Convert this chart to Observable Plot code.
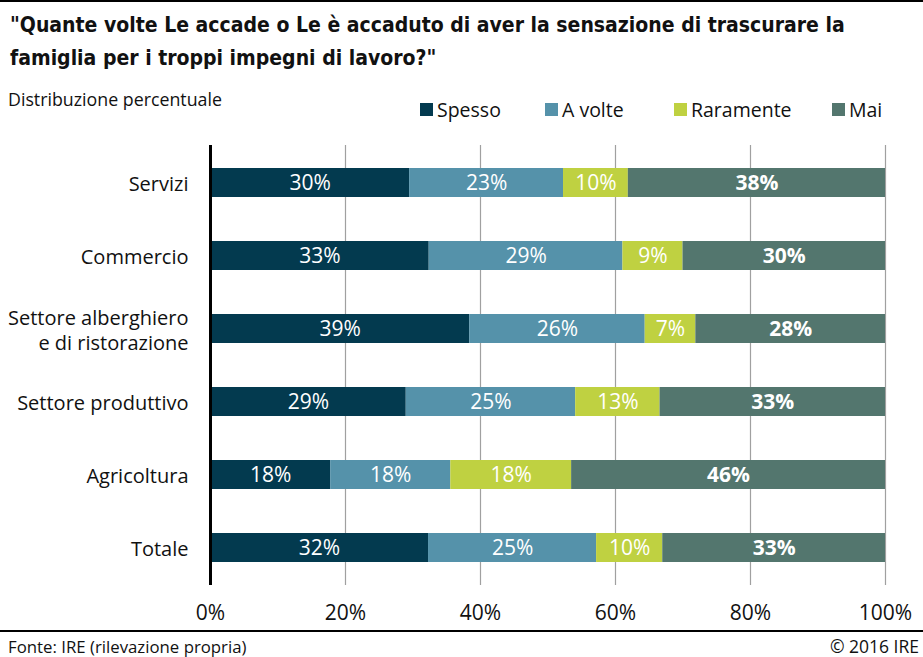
<!DOCTYPE html>
<html><head><meta charset="utf-8">
<script src="https://cdn.jsdelivr.net/npm/d3@7"></script>
<script src="https://cdn.jsdelivr.net/npm/@observablehq/plot@0.6"></script>
<style>
body{margin:0;background:#fff;}
#wrap{position:relative;width:923px;height:657px;overflow:hidden;font-family:"Open Sans",sans-serif;color:#111;}
#topline{position:absolute;left:0;top:0;width:923px;height:2px;background:#000;}
#title{position:absolute;left:10px;top:9px;font-family:"DejaVu Sans Condensed","DejaVu Sans";font-weight:bold;font-size:21px;line-height:33px;white-space:nowrap;}
#subtitle{position:absolute;left:8px;top:87px;font-size:17.8px;white-space:nowrap;}
.li{position:absolute;top:97px;height:24px;display:flex;align-items:center;font-size:19.5px;white-space:nowrap;}
.sw{width:13px;height:13px;margin-right:4px;}
#chart{position:absolute;left:0;top:130px;}
#rule{position:absolute;left:0;top:630px;width:923px;height:2px;background:#000;}
#src{position:absolute;left:8px;top:637px;font-size:16.8px;line-height:19px;white-space:nowrap;}
#copy{position:absolute;right:4px;top:637px;font-size:17.5px;line-height:19px;white-space:nowrap;}
</style></head>
<body>
<div id="wrap">
  <div id="topline"></div>
  <div id="title">"Quante volte Le accade o Le è accaduto di aver la sensazione di trascurare la<br>famiglia per i troppi impegni di lavoro?"</div>
  <div id="subtitle">Distribuzione percentuale</div>
  <div id="chart"></div>
  <div id="rule"></div>
  <div id="src">Fonte: IRE (rilevazione propria)</div>
  <div id="copy">© 2016 IRE</div>
</div>
<script>
const categories = ["Servizi", "Commercio", "Settore alberghiero\ne di ristorazione", "Settore produttivo", "Agricoltura", "Totale"];
const responses = ["Spesso", "A volte", "Raramente", "Mai"];
const colors = ["#033a4f", "#5592aa", "#bfd141", "#53766e"];
// bar lengths (percent)
const spesso    = [29.5, 32.4, 38.4, 29.0, 17.8, 32.3];
const aVolte    = [22.8, 28.7, 26.0, 25.1, 17.8, 24.9];
const raramente = [9.6, 8.9, 7.5, 12.5, 17.9, 9.8];
const mai       = [38.1, 30.0, 28.1, 33.4, 46.5, 33.0];
// printed labels
const spessoLbl    = [30, 33, 39, 29, 18, 32];
const aVolteLbl    = [23, 29, 26, 25, 18, 25];
const raramenteLbl = [10, 9, 7, 13, 18, 10];
const maiLbl       = [38, 30, 28, 33, 46, 33];
const xTicks = [0, 20, 40, 60, 80, 100];
const legendX = [420, 545, 674, 832];

const series = [spesso, aVolte, raramente, mai];
const labels = [spessoLbl, aVolteLbl, raramenteLbl, maiLbl];
const rows = [];
categories.forEach((c, i) => {
  responses.forEach((r, j) => {
    rows.push({cat: c, resp: r, value: series[j][i], label: labels[j][i]});
  });
});

// legend
const leg = document.getElementById("wrap");
responses.forEach((r, j) => {
  const it = document.createElement("div");
  it.className = "li";
  it.style.left = legendX[j] + "px";
  it.innerHTML = `<span class="sw" style="background:${colors[j]}"></span><span>${r}</span>`;
  leg.appendChild(it);
});

const chart = Plot.plot({
  width: 923,
  height: 501,
  marginTop: 15,
  marginBottom: 46,
  marginLeft: 210,
  marginRight: 38,
  style: {fontFamily: "'Open Sans', sans-serif", background: "transparent"},
  x: {domain: [0, 100], axis: null},
  y: {domain: categories, axis: null, paddingInner: 0.6, paddingOuter: 0.3},
  color: {domain: responses, range: colors},
  marks: [
    Plot.ruleX(xTicks.filter(d => d > 0), {x: d => d, stroke: "#a0a0a0", strokeWidth: 1.2}),
    Plot.barX(rows, Plot.stackX({x: "value", y: "cat", fill: "resp", order: responses})),
    Plot.ruleX([0], {stroke: "#000", strokeWidth: 3}),
    Plot.text(rows, Plot.stackX({x: "value", y: "cat", z: "resp", order: responses,
      text: d => d.resp === "Mai" ? null : d.label + "%", fill: "white", fontSize: 21})),
    Plot.text(rows, Plot.stackX({x: "value", y: "cat", z: "resp", order: responses,
      text: d => d.resp === "Mai" ? d.label + "%" : null, fill: "white", fontSize: 21, fontWeight: "bold"})),
    Plot.text(categories, {x: 0, y: d => d, text: d => d, textAnchor: "end", dx: -22, fontSize: 20, lineHeight: 1.25, fill: "#111"}),
    Plot.text(xTicks, {x: d => d, text: d => d + "%", frameAnchor: "bottom", dy: 34, fontSize: 21, fill: "#111"})
  ]
});
document.getElementById("chart").appendChild(chart);
</script>
</body></html>
